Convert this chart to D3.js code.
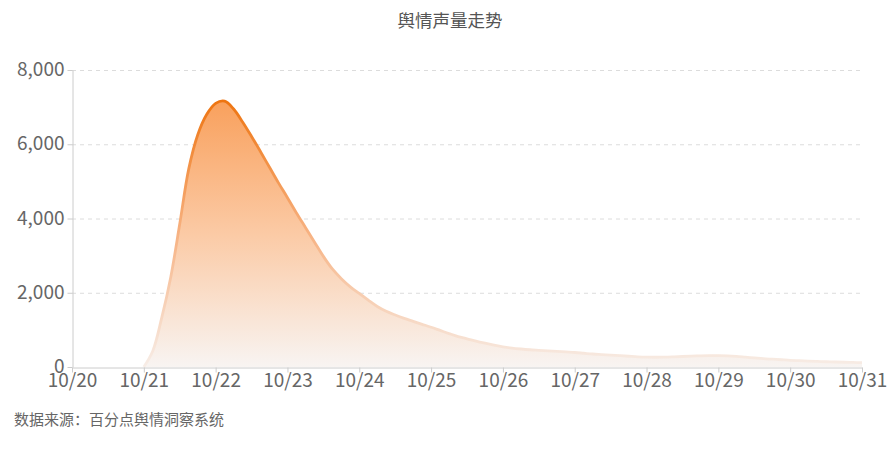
<!DOCTYPE html>
<html>
<head>
<meta charset="utf-8">
<script src="https://cdn.jsdelivr.net/npm/d3@7"></script>
<style>
  html, body { margin: 0; padding: 0; background: #fff; }
  svg { display: block; }
</style>
</head>
<body>
<svg id="chart" width="895" height="450"></svg>
<script>
const title = "舆情声量走势";
const source = "数据来源：百分点舆情洞察系统";
const dayLabels = ["10/20","10/21","10/22","10/23","10/24","10/25","10/26","10/27","10/28","10/29","10/30","10/31"];
const yTicks = [0, 2000, 4000, 6000, 8000];
// 3-hourly readings starting 10/21 00:00 through 10/31 00:00
const startTime = "2023-10-21T00:00";
const stepHours = 3;
const volume = [
  0, 430, 1330, 2420, 3850, 5330, 6250, 6800,
  7100, 7160, 6950, 6600, 6210, 5800, 5380, 4960,
  4560, 4150, 3760, 3370, 2980, 2640, 2380, 2160,
  1980, 1800, 1630, 1500, 1400, 1310, 1230, 1150,
  1070, 985, 900, 820, 760, 695, 640, 590,
  545, 510, 485, 465, 450, 435, 420, 405,
  390, 370, 350, 335, 320, 305, 290, 275,
  265, 262, 265, 273, 283, 293, 302, 308,
  308, 300, 285, 265, 245, 225, 210, 195,
  180, 170, 160, 150, 142, 135, 128, 122,
  118
];

const svg = d3.select("#chart");
const margin = {left: 72, right: 33, top: 70, bottom: 83};
const W = 895, H = 450;
const x0 = new Date("2023-10-20T00:00"), x1 = new Date("2023-10-31T00:00");
const x = d3.scaleTime().domain([x0, x1]).range([margin.left, W - margin.right]);
const y = d3.scaleLinear().domain([0, 8000]).range([H - margin.bottom, margin.top]);

const t0 = new Date(startTime);
const data = volume.map((v, i) => ({t: new Date(t0.getTime() + i * stepHours * 3600e3), v}));
const dayDates = dayLabels.map((_, i) => d3.timeDay.offset(x0, i));

const font = "'Noto Sans CJK SC', 'Noto Sans', sans-serif";

// gradients
const defs = svg.append("defs");
const gFill = defs.append("linearGradient").attr("id", "gFill")
  .attr("gradientUnits", "userSpaceOnUse").attr("x1", 0).attr("x2", 0)
  .attr("y1", y(7200)).attr("y2", y(0));
gFill.append("stop").attr("offset", 0).attr("stop-color", "#f9a05c");
gFill.append("stop").attr("offset", 0.5).attr("stop-color", "#fbcaa5");
gFill.append("stop").attr("offset", 1).attr("stop-color", "#f8f4f2");
const gLine = defs.append("linearGradient").attr("id", "gLine")
  .attr("gradientUnits", "userSpaceOnUse").attr("x1", 0).attr("x2", 0)
  .attr("y1", y(7200)).attr("y2", y(0));
gLine.append("stop").attr("offset", 0).attr("stop-color", "#ee7410");
gLine.append("stop").attr("offset", 0.5).attr("stop-color", "#f7b282");
gLine.append("stop").attr("offset", 1).attr("stop-color", "#f7ede7");

// grid
svg.append("g").selectAll("line").data(yTicks.filter(d => d > 0)).join("line")
  .attr("x1", margin.left).attr("x2", W - margin.right)
  .attr("y1", d => y(d) + 0.5).attr("y2", d => y(d) + 0.5)
  .attr("stroke", "#dcdcdc").attr("stroke-dasharray", "4,4");

const curve = d3.curveCatmullRom.alpha(0.5);
// area + line
svg.append("path").datum(data)
  .attr("fill", "url(#gFill)")
  .attr("d", d3.area().x(d => x(d.t)).y0(y(0)).y1(d => y(d.v)).curve(curve));
svg.append("path").datum(data)
  .attr("fill", "none").attr("stroke", "url(#gLine)").attr("stroke-width", 2.8)
  .attr("stroke-linejoin", "round")
  .attr("d", d3.line().x(d => x(d.t)).y(d => y(d.v)).curve(curve));

// y axis
const yAxis = svg.append("g").attr("transform", `translate(${margin.left + 0.5},0)`)
  .call(d3.axisLeft(y).tickValues(yTicks).tickFormat(d3.format(",")).tickSize(5).tickSizeOuter(0));
yAxis.select(".domain").attr("stroke", "#cccccc");
yAxis.selectAll(".tick line").attr("stroke", "#cccccc");
yAxis.selectAll(".tick text").attr("fill", "#666").attr("font-size", 19)
  .attr("font-family", font).attr("x", -8).attr("dy", "0.3em");

// x axis
const xAxis = svg.append("g").attr("transform", `translate(0,${y(0) + 0.5})`)
  .call(d3.axisBottom(x).tickValues(dayDates).tickFormat((d, i) => dayLabels[i]).tickSize(5).tickSizeOuter(0));
xAxis.select(".domain").attr("stroke", "#cccccc");
xAxis.selectAll(".tick line").attr("stroke", "#cccccc");
xAxis.selectAll(".tick text").attr("fill", "#666").attr("font-size", 19)
  .attr("font-family", font).attr("y", 6);

// title & source
svg.append("text").attr("x", 450).attr("y", 27).attr("text-anchor", "middle")
  .attr("font-family", font).attr("font-size", 17.5).attr("fill", "#555").text(title);
svg.append("text").attr("x", 14).attr("y", 425)
  .attr("font-family", font).attr("font-size", 15).attr("fill", "#666").text(source);
</script>
</body>
</html>
